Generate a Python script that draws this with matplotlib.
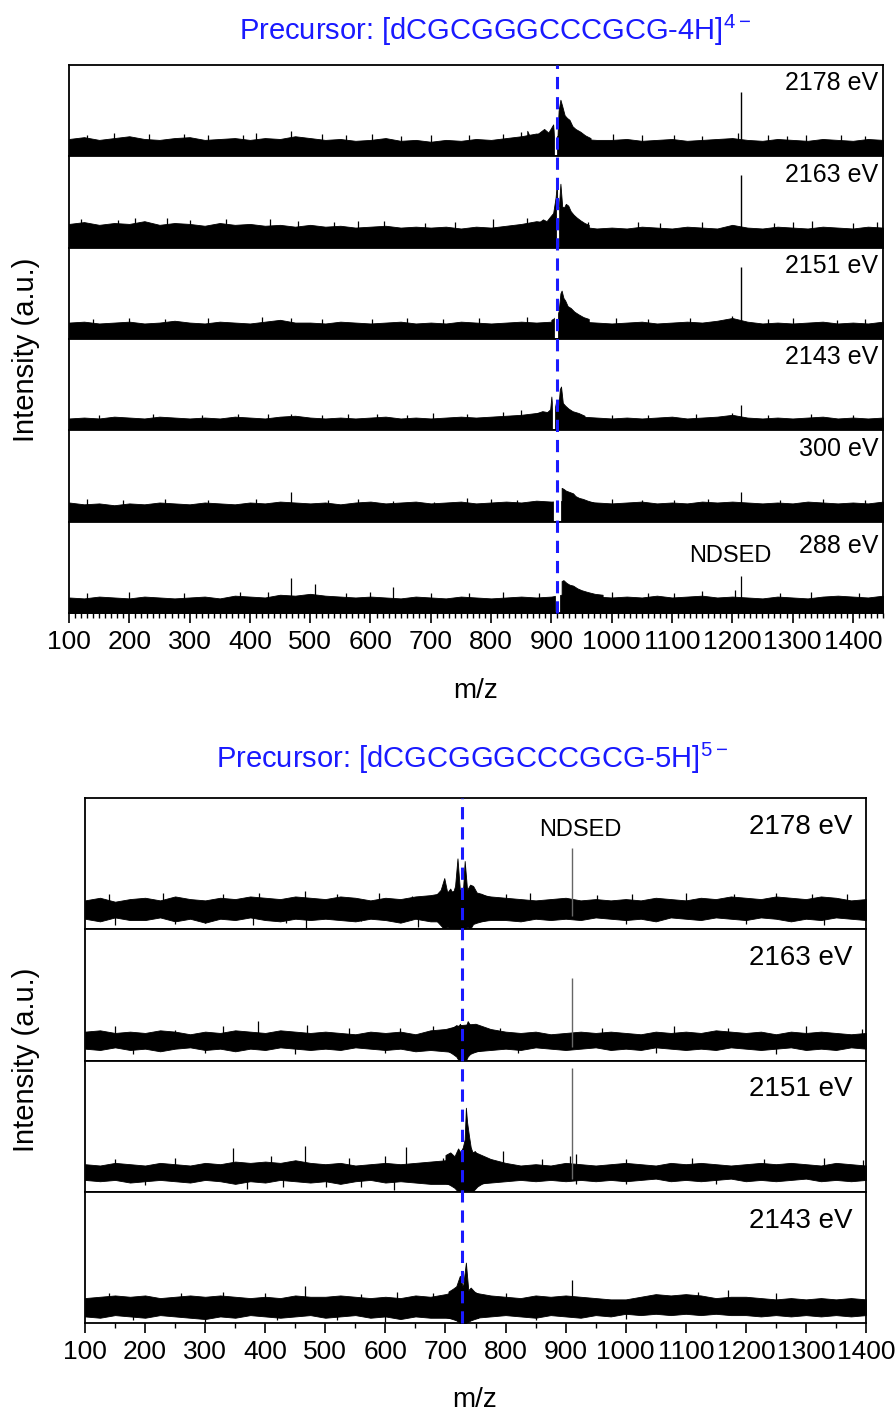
import matplotlib.pyplot as plt
import matplotlib.transforms as mtransforms
from matplotlib.lines import Line2D
from matplotlib.ticker import MultipleLocator
import numpy as np

plt.rcParams['font.family'] = ['Liberation Sans', 'DejaVu Sans']
plt.rcParams['axes.linewidth'] = 1.3

# ---------------------------------------------------------------------------
# data: intensity in % of each stacked panel, noise envelope every 25 m/z
# ---------------------------------------------------------------------------
top_nodes = np.arange(100, 1451, 25)
bot_nodes = np.arange(100, 1401, 25)

top_precursor = 910
bot_precursor = 728

top_labels = ['2178 eV', '2163 eV', '2151 eV', '2143 eV', '300 eV', '288 eV']
bot_labels = ['2178 eV', '2163 eV', '2151 eV', '2143 eV']

# ---- precursor [dCGCGGGCCCGCG-4H]4- ----
t2178_hi = [19, 21, 18, 20, 22, 19, 18, 20, 21, 18, 19, 20, 18, 20, 19, 22,
            20, 18, 19, 17, 18, 20, 17, 18, 16, 18, 17, 19, 18, 20, 22, 25,
            23, 21, 19, 18, 18, 19, 17, 18, 19, 17, 18, 19, 20, 18, 17, 19,
            18, 17, 19, 18, 17, 19, 18]
t2178_lo = 0
t2178_hump_mz = [860, 866, 880, 888, 895, 903, 906, 909, 912, 915, 918, 922, 926, 930, 935, 940, 948, 956, 965]
t2178_hump_h = [28, 19, 26, 30, 26, 35, 10, 6, 50, 62, 55, 45, 42, 40, 33, 30, 27, 23, 20]
t2178_gaps = [908]
t2178_spikes = [(468, 28), (232, 24), (388, 23), (603, 24), (763, 23), (1003, 24),
                (1103, 23), (1215, 70), (1210, 26), (1323, 23),
                (130, 23), (175, 25), (290, 24), (330, 23), (410, 25), (520, 24),
                (560, 23), (650, 22), (700, 23), (820, 24), (850, 27), (1050, 23),
                (1150, 22), (1260, 23), (1290, 22), (1380, 23), (1420, 22)]

t2163_hi = [26, 28, 25, 27, 26, 29, 25, 27, 26, 24, 27, 25, 26, 24, 25, 23,
            25, 23, 24, 22, 23, 24, 22, 23, 22, 23, 21, 23, 22, 24, 26, 29,
            27, 25, 23, 21, 22, 21, 23, 22, 21, 23, 22, 21, 25, 22, 21, 23,
            22, 21, 23, 22, 21, 23, 22]
t2163_lo = 0
t2163_hump_mz = [880, 886, 892, 898, 903, 907, 909, 911, 913, 915, 918, 921, 924, 928, 932, 937, 942, 948, 955, 962]
t2163_hump_h = [28, 31, 29, 34, 38, 55, 70, 10, 50, 70, 45, 44, 48, 46, 40, 36, 33, 30, 27, 25]
t2163_gaps = [911]
t2163_spikes = [(262, 32), (182, 30), (433, 31), (623, 29), (803, 31), (1043, 28),
                (1215, 80), (1333, 29),
                (120, 31), (210, 32), (300, 30), (360, 31), (480, 29), (540, 28),
                (580, 29), (690, 27), (740, 28), (860, 33), (960, 28), (1080, 27),
                (1150, 28), (1270, 27), (1300, 28), (1400, 27), (1440, 28)]

t2151_hi = [18, 19, 17, 18, 19, 17, 18, 20, 18, 17, 19, 18, 17, 19, 21, 18,
            18, 17, 19, 18, 17, 18, 19, 17, 18, 17, 19, 18, 17, 18, 19, 18,
            19, 18, 19, 18, 17, 18, 19, 17, 18, 19, 18, 20, 23, 19, 17, 18,
            17, 18, 19, 17, 18, 17, 19]
t2151_lo = 0
t2151_hump_mz = [900, 905, 912, 915, 917, 920, 923, 927, 932, 938, 945, 953, 962]
t2151_hump_h = [21, 23, 30, 50, 53, 45, 42, 36, 34, 30, 27, 24, 22]
t2151_gaps = [908, 910]
t2151_spikes = [(1215, 79), (1200, 25), (468, 23), (603, 22), (1008, 23), (1373, 21),
                (140, 22), (200, 23), (260, 22), (330, 23), (420, 24), (520, 22),
                (660, 23), (720, 22), (780, 23), (860, 24), (1060, 22), (1130, 23),
                (1260, 22), (1300, 23), (1420, 22)]

t2143_hi = [13, 14, 13, 15, 14, 13, 15, 14, 13, 14, 13, 15, 14, 13, 15, 16,
            14, 13, 14, 13, 14, 15, 13, 14, 13, 14, 15, 14, 15, 16, 17, 19,
            19, 17, 15, 14, 13, 14, 13, 14, 15, 13, 14, 15, 17, 14, 13, 14,
            13, 14, 15, 13, 14, 13, 14]
t2143_lo = 0
t2143_hump_mz = [876, 885, 893, 898, 900, 903, 908, 911, 914, 916, 919, 923, 928, 935, 945, 955]
t2143_hump_h = [19, 21, 20, 23, 37, 16, 32, 20, 45, 48, 30, 27, 24, 21, 19, 16]
t2143_gaps = [905]
t2143_spikes = [(1215, 28), (1200, 19), (468, 18), (563, 18), (703, 19),
                (150, 17), (240, 18), (320, 17), (380, 18), (430, 18), (520, 17),
                (610, 18), (660, 17), (760, 18), (820, 20), (850, 22), (1000, 17),
                (1060, 17), (1140, 18), (1260, 17), (1330, 18), (1400, 17)]

t300_hi = [21, 19, 20, 18, 20, 19, 21, 20, 19, 21, 20, 19, 21, 20, 22, 21,
           20, 21, 19, 21, 22, 20, 21, 22, 20, 21, 22, 20, 21, 22, 21, 23,
           22, 23, 22, 21, 20, 21, 22, 20, 21, 20, 22, 21, 22, 21, 20, 21,
           20, 22, 21, 20, 21, 20, 22]
t300_lo = 0
t300_hump_mz = [917, 920, 924, 928, 932, 936, 940, 946, 952, 960, 970]
t300_hump_h = [37, 36, 34, 33, 32, 31, 28, 26, 25, 23, 21]
t300_gaps = [906, 909, 912, 914]
t300_spikes = [(468, 32), (638, 23), (705, 22), (1215, 33), (1103, 24), (843, 24),
               (130, 25), (190, 24), (260, 25), (330, 24), (410, 25), (530, 24),
               (580, 25), (760, 26), (800, 25), (1000, 25), (1050, 24), (1160, 25),
               (1280, 24), (1350, 25), (1420, 24)]

t288_hi = [17, 16, 18, 17, 16, 18, 17, 16, 17, 18, 16, 19, 18, 17, 20, 19,
           21, 19, 18, 17, 18, 17, 16, 18, 17, 16, 18, 17, 16, 17, 18, 17,
           18, 21, 19, 18, 17, 18, 17, 19, 17, 18, 19, 17, 18, 17, 16, 18,
           17, 16, 18, 19, 18, 17, 19]
t288_lo = 0
t288_hump_mz = [917, 920, 925, 930, 936, 943, 950, 960, 972, 985]
t288_hump_h = [35, 36, 33, 31, 30, 27, 25, 23, 21, 20]
t288_gaps = [910, 913]
t288_spikes = [(468, 38), (508, 32), (638, 28), (1215, 40), (1205, 25), (383, 23),
               (763, 22), (1103, 22),
               (130, 22), (200, 23), (290, 22), (430, 23), (560, 22), (600, 23),
               (700, 22), (820, 23), (880, 22), (1000, 23), (1060, 22), (1150, 24),
               (1280, 22), (1330, 23), (1410, 22)]

# ---- precursor [dCGCGGGCCCGCG-5H]5- ----
b2178_hi = [22, 24, 21, 23, 24, 22, 25, 23, 22, 24, 23, 25, 24, 23, 25, 24,
            23, 25, 24, 22, 24, 23, 25, 26, 28, 30, 27, 25, 24, 23, 22, 23,
            24, 22, 23, 22, 23, 22, 24, 23, 22, 24, 23, 25, 24, 23, 25, 24,
            23, 25, 24, 22, 23]
b2178_lo = [8, 6, 9, 7, 7, 9, 6, 8, 5, 8, 7, 9, 7, 6, 8, 7,
            8, 7, 6, 8, 7, 5, 8, 6, 6, 5, 6, 7, 7, 6, 8, 7,
            8, 7, 9, 8, 7, 8, 6, 9, 8, 7, 9, 8, 7, 9, 8, 6,
            8, 7, 9, 8, 7]
b2178_hump_mz = [686, 692, 698, 703, 708, 712, 716, 720, 724, 728, 732, 736, 741, 746, 752, 760, 770]
b2178_hump_h = [27, 30, 39, 28, 31, 27, 33, 54, 30, 20, 52, 30, 34, 33, 28, 27, 25]
b2178_hump_lo = [6, 3, 0, 2, 0, 0, 0, 0, 0, 0, 0, 2, 0, 4, 5, 6, 7]
b2178_dips = [(654, 2), (641, 10), (832, 8), (468, 1), (434, 5), (560, 6), (300, 5),
              (150, 3), (250, 4), (380, 3), (1000, 4), (1200, 4), (1330, 3)]
b2178_spikes = [(466, 29), (910, 62), (952, 26), (1368, 27), (645, 25),
                (140, 27), (230, 28), (330, 27), (390, 28), (520, 27), (590, 28),
                (800, 27), (840, 28), (1010, 27), (1100, 28), (1180, 27),
                (1250, 28), (1310, 27)]

b2163_hi = [22, 23, 21, 22, 21, 23, 22, 20, 22, 21, 23, 22, 21, 23, 22, 21,
            22, 21, 20, 22, 21, 22, 20, 23, 24, 27, 28, 24, 22, 21, 22, 20,
            21, 22, 21, 22, 21, 20, 22, 21, 22, 21, 23, 22, 21, 22, 20, 22,
            21, 22, 21, 20, 21]
b2163_lo = [9, 8, 10, 8, 9, 7, 9, 10, 8, 9, 7, 9, 8, 10, 9, 8,
            9, 8, 10, 9, 8, 9, 7, 8, 7, 6, 7, 8, 9, 8, 10, 9,
            8, 9, 10, 8, 9, 8, 10, 9, 8, 9, 8, 10, 9, 8, 9, 10,
            8, 9, 8, 10, 9]
b2163_hump_mz = [705, 712, 718, 722, 724, 730, 734, 737, 741, 746, 752, 760]
b2163_hump_h = [24, 25, 27, 26, 28, 22, 26, 30, 27, 26, 24, 23]
b2163_hump_lo = [7, 5, 3, 0, 0, 0, 0, 3, 5, 6, 7, 8]
b2163_dips = [(600, 6), (300, 6), (450, 5), (180, 5), (820, 6), (1050, 6), (1250, 5)]
b2163_spikes = [(388, 30), (624, 25), (910, 63), (1393, 24), (250, 23),
                (150, 26), (330, 26), (470, 27), (540, 25), (680, 26), (790, 25),
                (960, 25), (1080, 26), (1170, 25), (1300, 26)]

b2151_hi = [21, 20, 22, 21, 20, 22, 21, 20, 22, 21, 23, 22, 23, 22, 24, 22,
            21, 22, 20, 21, 22, 21, 22, 23, 24, 28, 30, 25, 22, 20, 21, 20,
            22, 21, 20, 21, 22, 21, 20, 22, 21, 22, 21, 20, 21, 22, 21, 22,
            21, 20, 22, 21, 20]
b2151_lo = [9, 8, 9, 7, 8, 9, 8, 7, 9, 8, 6, 8, 7, 9, 8, 7,
            8, 6, 8, 9, 7, 8, 7, 6, 6, 5, 6, 7, 8, 9, 8, 9,
            8, 9, 8, 9, 8, 9, 10, 8, 9, 8, 9, 10, 8, 9, 8, 9,
            10, 8, 9, 8, 9]
b2151_hump_mz = [700, 708, 715, 721, 725, 729, 732, 734, 736, 739, 742, 745, 749, 753, 760, 770]
b2151_hump_h = [28, 30, 27, 33, 30, 34, 40, 64, 53, 43, 34, 30, 31, 28, 26, 24]
b2151_hump_lo = [7, 5, 3, 0, 0, 0, 0, 0, 0, 0, 0, 0, 2, 4, 6, 8]
b2151_dips = [(370, 2), (615, 1), (501, 4), (917, 6), (200, 5), (430, 4), (560, 4),
              (1000, 6), (1150, 6)]
b2151_spikes = [(346, 33), (466, 35), (635, 34), (696, 26), (795, 31), (908, 27),
                (910, 94), (917, 29), (1395, 24),
                (150, 25), (250, 26), (410, 27), (540, 26), (600, 27), (860, 25),
                (1000, 25), (1110, 26), (1230, 25), (1330, 26)]

b2143_hi = [19, 20, 21, 20, 21, 19, 20, 21, 20, 21, 20, 19, 20, 19, 21, 20,
            20, 21, 20, 19, 20, 19, 21, 20, 22, 25, 23, 21, 20, 19, 21, 20,
            21, 20, 19, 18, 18, 20, 22, 21, 22, 21, 19, 20, 20, 19, 18, 19,
            18, 19, 18, 19, 18]
b2143_lo = [5, 4, 6, 5, 4, 6, 5, 4, 3, 5, 4, 6, 5, 4, 5, 6,
            4, 5, 6, 4, 5, 3, 5, 4, 4, 3, 4, 5, 6, 5, 4, 6,
            5, 4, 6, 5, 7, 6, 7, 6, 7, 6, 7, 6, 6, 5, 6, 5,
            6, 5, 6, 5, 6]
b2143_hump_mz = [705, 712, 718, 724, 729, 734, 738, 742, 748, 755]
b2143_hump_h = [24, 26, 28, 36, 27, 46, 25, 27, 24, 22]
b2143_hump_lo = [4, 3, 2, 0, 0, 0, 1, 2, 3, 4]
b2143_dips = [(300, 1), (600, 1), (420, 2), (180, 2), (520, 2), (850, 2), (1000, 3)]
b2143_spikes = [(466, 28), (910, 33), (260, 23), (560, 22),
                (140, 23), (330, 24), (400, 23), (620, 24), (680, 23), (800, 23),
                (1120, 24), (1170, 25), (1250, 23)]

top_traces = [
    (t2178_hi, t2178_lo, t2178_hump_mz, t2178_hump_h, 0, t2178_spikes, [], t2178_gaps),
    (t2163_hi, t2163_lo, t2163_hump_mz, t2163_hump_h, 0, t2163_spikes, [], t2163_gaps),
    (t2151_hi, t2151_lo, t2151_hump_mz, t2151_hump_h, 0, t2151_spikes, [], t2151_gaps),
    (t2143_hi, t2143_lo, t2143_hump_mz, t2143_hump_h, 0, t2143_spikes, [], t2143_gaps),
    (t300_hi, t300_lo, t300_hump_mz, t300_hump_h, 0, t300_spikes, [], t300_gaps),
    (t288_hi, t288_lo, t288_hump_mz, t288_hump_h, 0, t288_spikes, [], t288_gaps),
]
bot_traces = [
    (b2178_hi, b2178_lo, b2178_hump_mz, b2178_hump_h, b2178_hump_lo, b2178_spikes, b2178_dips, []),
    (b2163_hi, b2163_lo, b2163_hump_mz, b2163_hump_h, b2163_hump_lo, b2163_spikes, b2163_dips, []),
    (b2151_hi, b2151_lo, b2151_hump_mz, b2151_hump_h, b2151_hump_lo, b2151_spikes, b2151_dips, []),
    (b2143_hi, b2143_lo, b2143_hump_mz, b2143_hump_h, b2143_hump_lo, b2143_spikes, b2143_dips, []),
]

# ---------------------------------------------------------------------------
W, H = 896, 1412
fig = plt.figure(figsize=(W / 100, H / 100), dpi=100)
BLUE = '#1a1aff'


def draw_block(traces, nodes, box, xmax, minor, precursor, big_color):
    left, right, top, bottom = box
    n = len(traces)
    h = (bottom - top) / n
    axes = []
    for i, (hi, lo, hmz, hh, hlo, spikes, dips, gaps) in enumerate(traces):
        ax = fig.add_axes([left / W, 1 - (top + (i + 1) * h) / H,
                           (right - left) / W, h / H])
        ax.fill_between(nodes, lo, hi, color='black', lw=0.6)
        if gaps:
            ax.vlines(gaps, 0, 45, color='white', lw=1.6)
        ax.fill_between(hmz, hlo, hh, color='black', lw=0.6)
        for x, y in spikes:
            # the tall fragment lines are thin and grey in the lower stack
            c = big_color if y > 45 else 'black'
            ax.vlines(x, 10, y, color=c, lw=1.0 if y > 45 else 0.9)
        if dips:
            dx, dy = zip(*dips)
            ax.vlines(dx, dy, 10, color='black', lw=0.9)
        ax.set_xlim(100, xmax)
        ax.set_ylim(0, 100)
        ax.set_yticks([])
        if i < n - 1:
            ax.tick_params(axis='x', which='both', bottom=False, labelbottom=False)
        axes.append(ax)

    axb = axes[-1]
    axb.set_xticks(np.arange(100, 1401, 100))
    axb.xaxis.set_minor_locator(MultipleLocator(minor))
    axb.tick_params(axis='x', which='major', direction='out', length=7, width=1.2,
                    labelsize=19, pad=5)
    axb.tick_params(axis='x', which='minor', direction='out', length=3.5, width=1.0)

    # dashed precursor marker across the whole stack
    trans = mtransforms.blended_transform_factory(axb.transData, fig.transFigure)
    fig.add_artist(Line2D([precursor, precursor], [1 - bottom / H, 1 - top / H],
                          transform=trans, color=BLUE, lw=2.2,
                          linestyle=(0, (4, 2.6)), zorder=5))
    return axes


# top block
top_axes = draw_block(top_traces, top_nodes, (69, 883, 65, 613),
                      1450, 10, top_precursor, 'black')
for ax, lab in zip(top_axes[:-1], top_labels[:-1]):
    ax.text(0.994, 0.93, lab, transform=ax.transAxes, ha='right', va='top',
            fontsize=18)
top_axes[-1].text(0.994, 0.87, top_labels[-1], transform=top_axes[-1].transAxes,
                  ha='right', va='top', fontsize=18)
top_axes[-1].text(0.812, 0.62, 'NDSED', transform=top_axes[-1].transAxes,
                  ha='center', va='center', fontsize=17)

# bottom block
bot_axes = draw_block(bot_traces, bot_nodes, (85, 866, 798, 1323),
                      1400, 50, bot_precursor, '#666666')
for ax, lab in zip(bot_axes, bot_labels):
    ax.text(0.983, 0.88, lab, transform=ax.transAxes, ha='right', va='top',
            fontsize=20)
bot_axes[0].text(0.634, 0.755, 'NDSED', transform=bot_axes[0].transAxes,
                 ha='center', va='center', fontsize=17)

# titles and axis labels
fig.text(495 / W, 1 - 30 / H, r'Precursor: [dCGCGGGCCCGCG-4H]$^{\mathregular{4-}}$',
         color=BLUE, fontsize=21, ha='center', va='center')
fig.text(472 / W, 1 - 758 / H, r'Precursor: [dCGCGGGCCCGCG-5H]$^{\mathregular{5-}}$',
         color=BLUE, fontsize=21, ha='center', va='center')
fig.text(26 / W, 1 - 350 / H, 'Intensity (a.u.)', rotation=90, fontsize=21,
         ha='center', va='center')
fig.text(26 / W, 1 - 1060 / H, 'Intensity (a.u.)', rotation=90, fontsize=21,
         ha='center', va='center')
fig.text(476 / W, 1 - 691 / H, 'm/z', fontsize=20, ha='center', va='center')
fig.text(475 / W, 1 - 1400 / H, 'm/z', fontsize=20, ha='center', va='center')

fig.savefig('out.png', dpi=100)
